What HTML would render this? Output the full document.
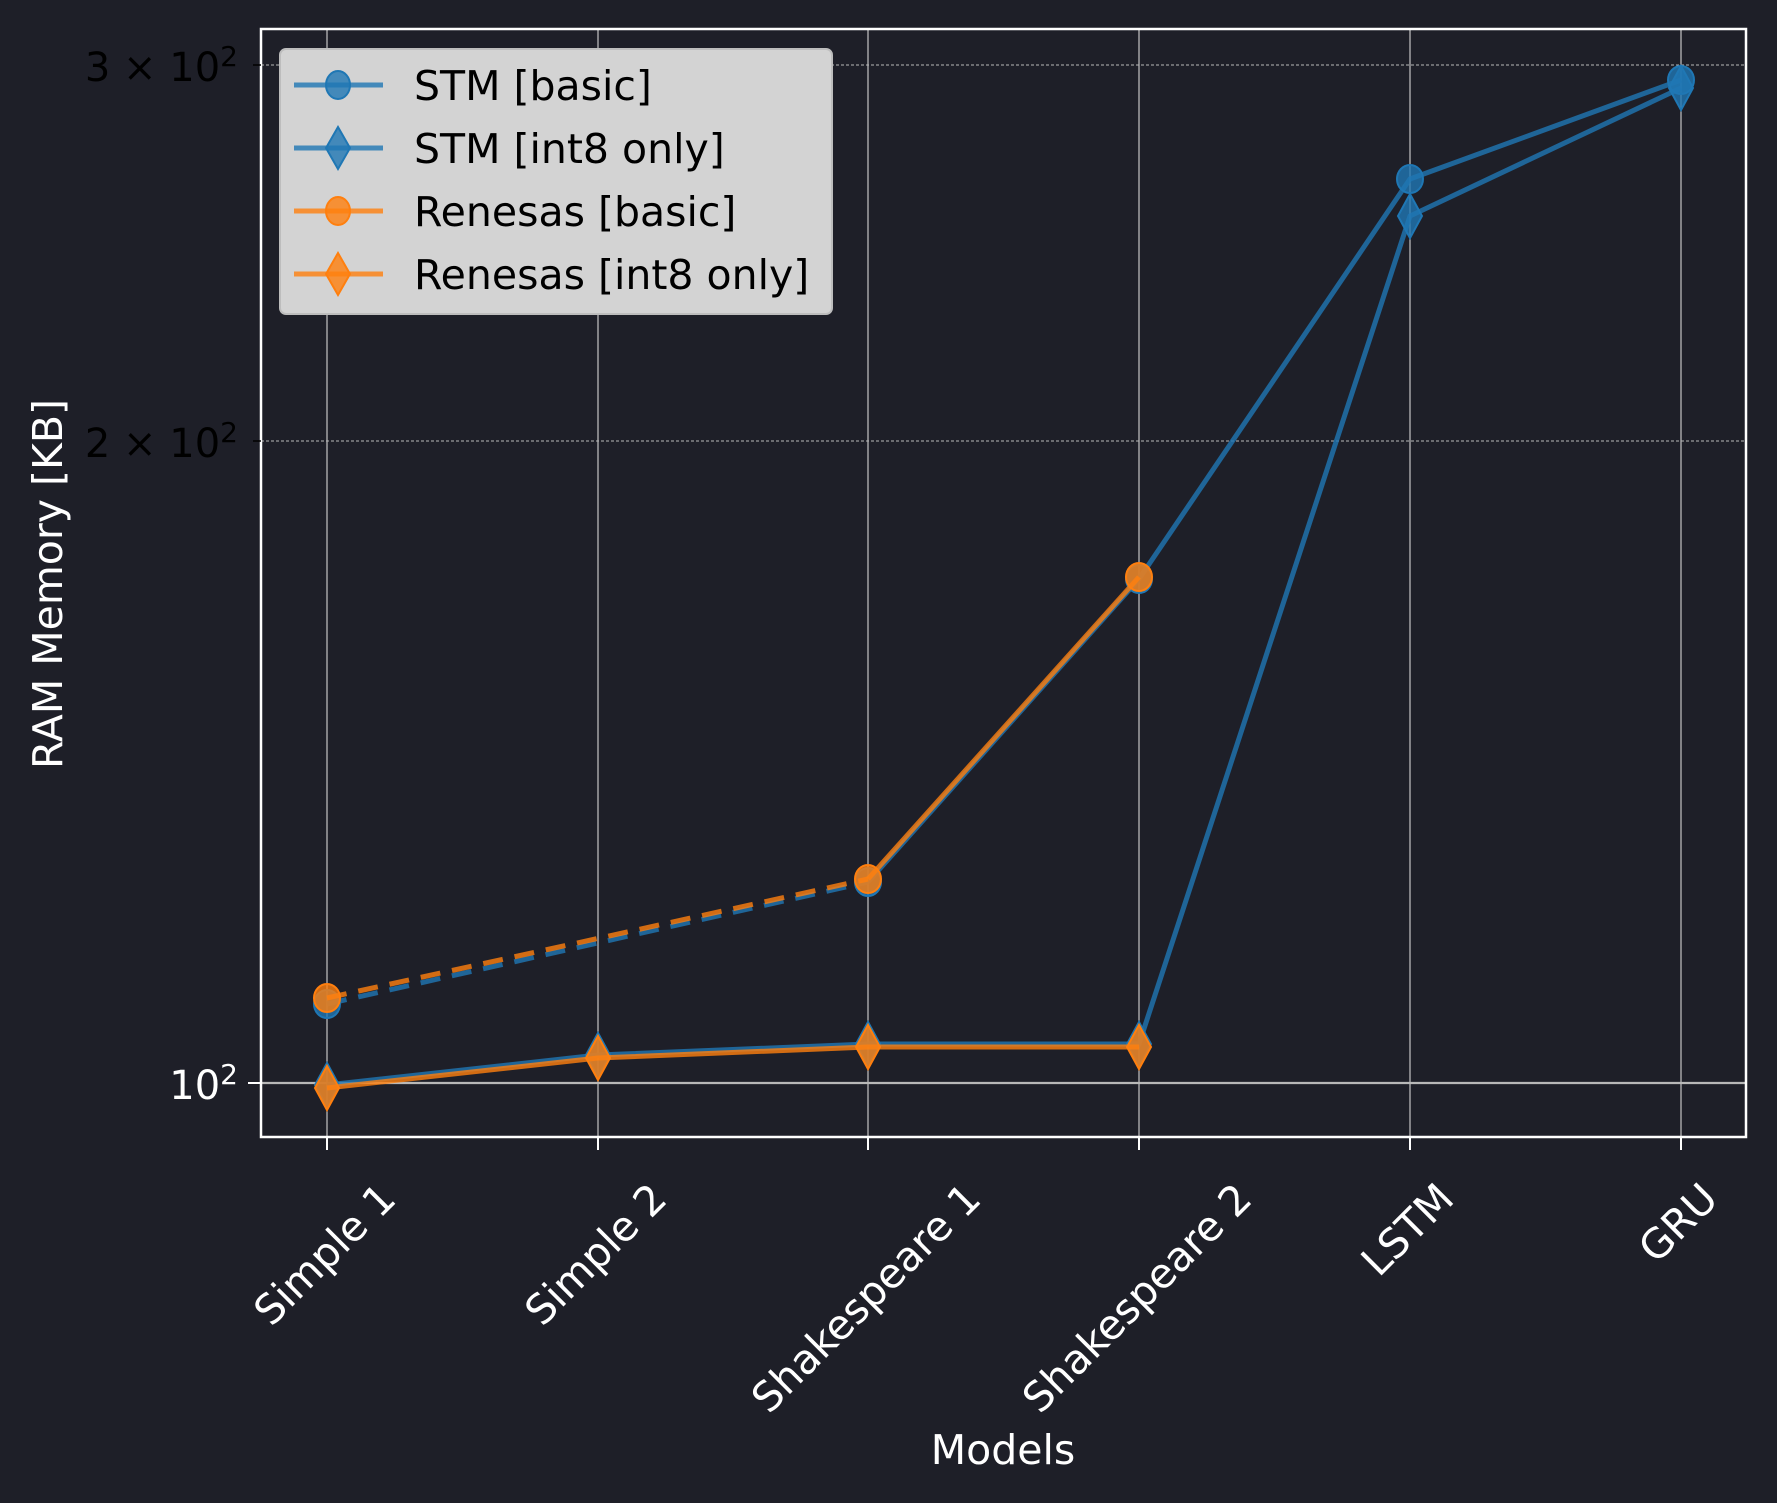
<!DOCTYPE html>
<html><head><meta charset="utf-8"><style>
html,body{margin:0;padding:0;background:#1e1f28;}
svg{display:block;font-family:"DejaVu Sans","Liberation Sans",sans-serif;}
</style></head><body>
<svg width="1777" height="1503" viewBox="0 0 1777 1503" xmlns="http://www.w3.org/2000/svg">
<rect width="1777" height="1503" fill="#1e1f28"/>
<g stroke="#b8b8b8" stroke-width="1.3">
<line x1="327" y1="29" x2="327" y2="1137"/><line x1="598" y1="29" x2="598" y2="1137"/>
<line x1="868" y1="29" x2="868" y2="1137"/><line x1="1139" y1="29" x2="1139" y2="1137"/>
<line x1="1410" y1="29" x2="1410" y2="1137"/><line x1="1681" y1="29" x2="1681" y2="1137"/>
</g>
<line x1="261" y1="1083" x2="1746" y2="1083" stroke="#b8b8b8" stroke-width="2.2"/>
<g stroke="#b8b8b8" stroke-width="1" stroke-dasharray="3,2">
<line x1="261" y1="441" x2="1746" y2="441"/><line x1="261" y1="65" x2="1746" y2="65"/>
</g>
<g stroke="#1f77b4" stroke-opacity="0.8" stroke-width="5" fill="none">
<polyline points="327,1004 868,882" stroke-dasharray="20,12"/>
<polyline points="868,882 1139,579 1410,179 1681,80"/>
<polyline points="327,1085 598,1055 868,1044 1139,1044 1410,216 1681,88"/>
</g>
<g fill="#1f77b4" fill-opacity="0.8" stroke="#1f77b4" stroke-width="2">
<ellipse cx="327" cy="1004" rx="13" ry="14"/><ellipse cx="868" cy="882" rx="13" ry="14"/>
<ellipse cx="1139" cy="579" rx="13" ry="14"/><ellipse cx="1410" cy="179" rx="13" ry="14"/><ellipse cx="1681" cy="80" rx="13" ry="14"/>
<polygon points="327,1063 339,1085 327,1107 315,1085"/><polygon points="598,1033 610,1055 598,1077 586,1055"/>
<polygon points="868,1022 880,1044 868,1066 856,1044"/><polygon points="1139,1022 1151,1044 1139,1066 1127,1044"/>
<polygon points="1410,194 1422,216 1410,238 1398,216"/><polygon points="1681,66 1693,88 1681,110 1669,88"/>
</g>
<g stroke="#ff7f0e" stroke-opacity="0.8" stroke-width="5" fill="none">
<polyline points="327,998 868,879" stroke-dasharray="20,12"/>
<polyline points="868,879 1139,577"/>
<polyline points="327,1088 598,1058 868,1047 1139,1047"/>
</g>
<g fill="#ff7f0e" fill-opacity="0.8" stroke="#ff7f0e" stroke-width="2">
<ellipse cx="327" cy="998" rx="13" ry="14"/><ellipse cx="868" cy="879" rx="13" ry="14"/><ellipse cx="1139" cy="577" rx="13" ry="14"/>
<polygon points="327,1066 339,1088 327,1110 315,1088"/><polygon points="598,1036 610,1058 598,1080 586,1058"/>
<polygon points="868,1025 880,1047 868,1069 856,1047"/><polygon points="1139,1025 1151,1047 1139,1069 1127,1047"/>
</g>
<rect x="261" y="29" width="1485" height="1108" fill="none" stroke="#ffffff" stroke-width="2.5"/>
<g stroke="#ffffff" stroke-width="2">
<line x1="327" y1="1137" x2="327" y2="1150"/><line x1="598" y1="1137" x2="598" y2="1150"/>
<line x1="868" y1="1137" x2="868" y2="1150"/><line x1="1139" y1="1137" x2="1139" y2="1150"/>
<line x1="1410" y1="1137" x2="1410" y2="1150"/><line x1="1681" y1="1137" x2="1681" y2="1150"/>
<line x1="248" y1="1083" x2="261" y2="1083"/>
</g>
<g stroke="#000" stroke-width="1.5"><line x1="253" y1="441" x2="261" y2="441"/><line x1="253" y1="65" x2="261" y2="65"/></g>
<text x="238" y="81" font-size="40" fill="#000" text-anchor="end">3 × 10<tspan font-size="28" dy="-15">2</tspan></text>
<text x="238" y="457" font-size="40" fill="#000" text-anchor="end">2 × 10<tspan font-size="28" dy="-15">2</tspan></text>
<text x="238" y="1099" font-size="40" fill="#fff" text-anchor="end">10<tspan font-size="28" dy="-15">2</tspan></text>
<g font-size="41" fill="#fff" text-anchor="end">
<text transform="translate(398,1201) rotate(-45)">Simple 1</text>
<text transform="translate(669,1201) rotate(-45)">Simple 2</text>
<text transform="translate(983,1201) rotate(-45)">Shakespeare 1</text>
<text transform="translate(1254,1201) rotate(-45)">Shakespeare 2</text>
<text transform="translate(1456,1201) rotate(-45)">LSTM</text>
<text transform="translate(1720,1201) rotate(-45)">GRU</text>
</g>
<text x="1003" y="1464" font-size="41" fill="#fff" text-anchor="middle">Models</text>
<text transform="translate(62,584) rotate(-90)" font-size="41" fill="#fff" text-anchor="middle">RAM Memory [KB]</text>
<rect x="280" y="49" width="552" height="265" rx="6" fill="#d3d3d3" stroke="#bdbdbd" stroke-width="2"/>
<g stroke-width="5" stroke-opacity="0.8">
<line x1="294" y1="85" x2="383" y2="85" stroke="#1f77b4"/>
<line x1="294" y1="148" x2="383" y2="148" stroke="#1f77b4"/>
<line x1="294" y1="211" x2="383" y2="211" stroke="#ff7f0e"/>
<line x1="294" y1="274" x2="383" y2="274" stroke="#ff7f0e"/>
</g>
<g fill-opacity="0.8" stroke-width="2">
<ellipse cx="338" cy="85" rx="12" ry="14" fill="#1f77b4" stroke="#1f77b4"/>
<polygon points="338,127 350,148 338,169 326,148" fill="#1f77b4" stroke="#1f77b4"/>
<ellipse cx="338" cy="211" rx="12" ry="14" fill="#ff7f0e" stroke="#ff7f0e"/>
<polygon points="338,253 350,274 338,295 326,274" fill="#ff7f0e" stroke="#ff7f0e"/>
</g>
<g font-size="41" fill="#000">
<text x="414" y="100">STM [basic]</text>
<text x="414" y="163">STM [int8 only]</text>
<text x="414" y="226">Renesas [basic]</text>
<text x="414" y="289">Renesas [int8 only]</text>
</g>
</svg>
</body></html>
